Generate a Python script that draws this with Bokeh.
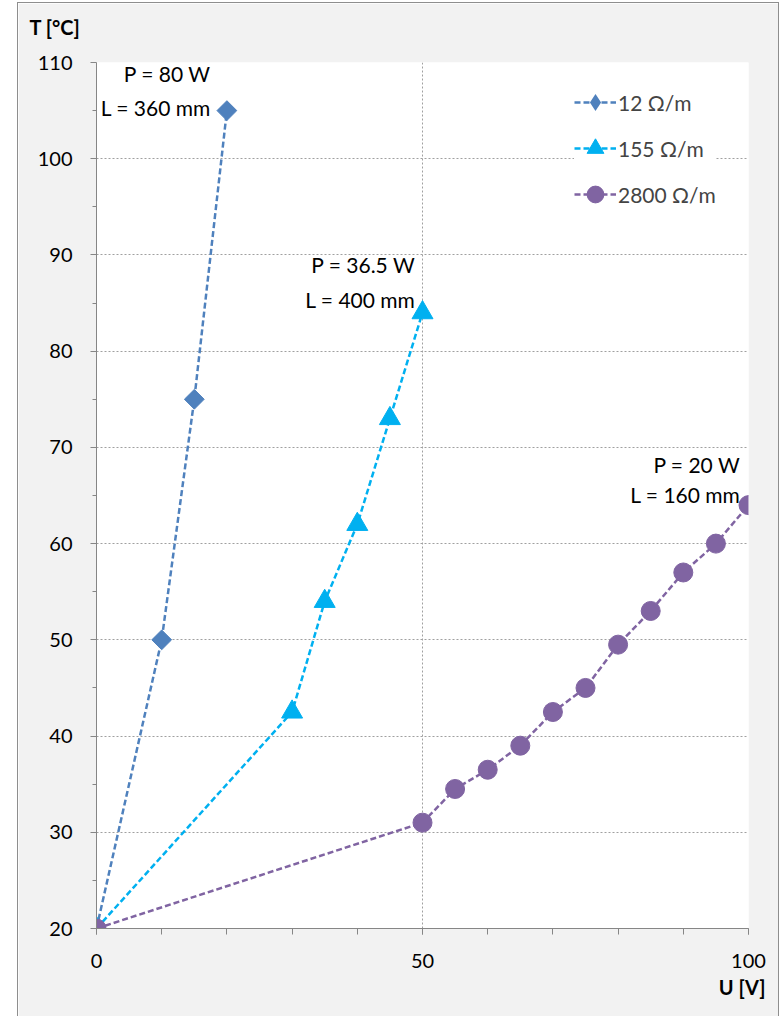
from bokeh.plotting import figure
from bokeh.models import Range1d, FixedTicker, Title, Label, Legend, LegendItem
from bokeh.core.properties import value
from bokeh.embed import file_html
from bokeh.resources import INLINE

# ---- data ----
series_names = ["12 Ω/m", "155 Ω/m", "2800 Ω/m"]
u_12 = [0, 10, 15, 20]
t_12 = [20, 50, 75, 105]
u_155 = [0, 30, 35, 40, 45, 50]
t_155 = [20, 42.5, 54, 62, 73, 84]
u_2800 = [0, 50, 55, 60, 65, 70, 75, 80, 85, 90, 95, 100]
t_2800 = [20, 31, 34.5, 36.5, 39, 42.5, 45, 49.5, 53, 57, 60, 64]
notes = ["P = 80 W\nL = 360 mm", "P = 36.5 W\nL = 400 mm", "P = 20 W\nL = 160 mm"]
y_ticks = [20, 30, 40, 50, 60, 70, 80, 90, 100, 110]
x_ticks = [0, 50, 100]
x_label = "U [V]"
y_label = "T [°C]"

FONT = "Lato"
colors = ["#4F81BD", "#00B0F0", "#8064A2"]

p = figure(width=762, height=1014, output_backend="svg", toolbar_location=None,
           x_range=Range1d(0, 100), y_range=Range1d(20, 110),
           min_border_left=78, min_border_right=32, min_border_top=59, min_border_bottom=89,
           border_fill_color="#F2F2F2", background_fill_color="white",
           outline_line_color=None)
p.styles = {"margin-left": "17px", "margin-top": "2px",
            "border-left": "1px solid #8e8e8e", "border-top": "1px solid #8e8e8e",
            "border-right": "1px solid #8e8e8e"}

# axis titles
p.add_layout(Label(x=-67, y=36, x_units="screen", y_units="screen", text=y_label,
                   text_font=FONT, text_font_size="20px", text_font_style="bold",
                   text_color="black", text_baseline="middle", text_align="left"), "above")
p.add_layout(Title(text=x_label, align="right", offset=-17, standoff=4,
                   text_font=FONT, text_font_size="20px", text_font_style="bold",
                   text_color="black"), "below")

# axes
for ax in (p.xaxis[0], p.yaxis[0]):
    ax.axis_line_color = "#868686"
    ax.major_tick_line_color = "#868686"
    ax.minor_tick_line_color = "#868686"
    ax.major_tick_in = 0
    ax.minor_tick_in = 0
    ax.major_label_text_font = FONT
    ax.major_label_text_font_size = "20px"
    ax.major_label_text_color = "black"

p.yaxis.ticker = FixedTicker(ticks=y_ticks, minor_ticks=[v + 5 for v in y_ticks[:-1]])
p.xaxis.ticker = FixedTicker(ticks=x_ticks, minor_ticks=list(range(0, 101, 10)))
p.yaxis.major_tick_out = 6
p.yaxis.minor_tick_out = 4
p.xaxis.major_tick_out = 6
p.xaxis.minor_tick_out = 6
p.yaxis.major_label_standoff = 18
p.xaxis.major_label_standoff = 19

p.xgrid.ticker = FixedTicker(ticks=x_ticks)
p.ygrid.ticker = FixedTicker(ticks=y_ticks)
for g in (p.xgrid[0], p.ygrid[0]):
    g.grid_line_color = "#a0a0a0"
    g.grid_line_dash = "2 2"
    g.grid_line_width = 1

# series
us = [u_12, u_155, u_2800]
ts = [t_12, t_155, t_2800]
markers = [dict(marker="square", size=14, angle=0.785398),
           dict(marker="triangle", size=21, angle=0),
           dict(marker="circle", size=19, angle=0)]
items = []
for i, (name, u, t, c, m) in enumerate(zip(series_names, us, ts, colors, markers)):
    lr = p.line(u, t, line_color=c, line_width=2.5, line_dash="6 3")
    sr = p.scatter(u, t, marker=m["marker"], size=m["size"], angle=m["angle"],
                   fill_color=c, line_color=c)
    if i == 0:
        # legend swatch: diamond (legend ignores marker angle)
        sr = p.scatter(u, t, marker="diamond", size=0, line_width=0,
                       fill_color=c, line_color=c)
    items.append(LegendItem(label=name, renderers=[lr, sr]))

legend = Legend(items=items, location=(478, 711), background_fill_color="white",
                background_fill_alpha=1.0, border_line_color=None,
                label_text_font=FONT, label_text_font_size="21px",
                glyph_width=42, glyph_height=46, label_height=46,
                spacing=0, padding=10, margin=0, label_standoff=2)
p.add_layout(legend, "center")

# annotations at the last point of each series
offsets = [(-16, -20, 1.35), (-7, -30.5, 1.4), (-8, -25.5, 1.2)]
for txt, u, t, (dx, dy, lh) in zip(notes, us, ts, offsets):
    p.text(x=[u[-1]], y=[t[-1]], text=[txt], text_align="right", text_baseline="middle",
           x_offset=dx, y_offset=dy, text_font=value(FONT), text_font_size="21px",
           text_color="black", text_line_height=lh)

open("out.html", "w").write(file_html(p, INLINE))
